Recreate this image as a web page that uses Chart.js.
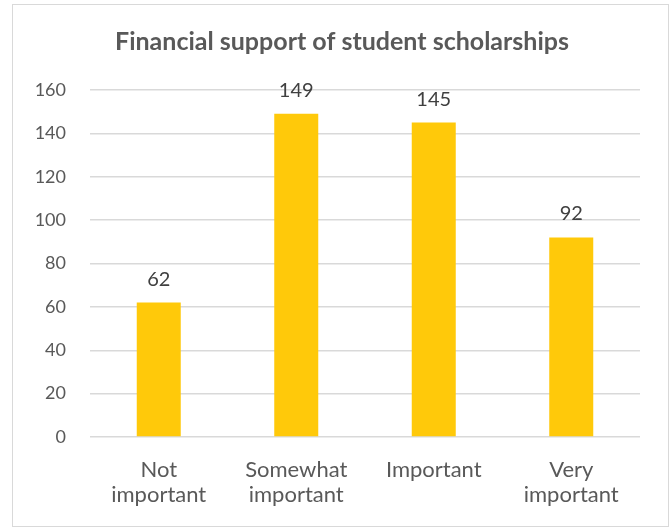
<!DOCTYPE html>
<html lang="en">
<head>
    <meta charset="UTF-8">
    <title>Financial support of student scholarships</title>
    <style>
        * { margin: 0; padding: 0; box-sizing: border-box; }
        body { width: 669px; height: 527px; background: #fff; overflow: hidden; }
        #frame {
            position: absolute;
            left: 12px; top: 4px;
            width: 657px; height: 523px;
            border: 1.5px solid #d9d9d9;
        }
        #wrap { position: absolute; left: 0; top: 0; width: 669px; height: 527px; }
    </style>
    <script src="https://cdn.jsdelivr.net/npm/chart.js"></script>
</head>
<body>
    <div id="frame"></div>
    <div id="wrap"><canvas id="chart"></canvas></div>

    <script>
        const chartTitle = 'Financial support of student scholarships';
        const categories = [['Not', 'important'], ['Somewhat', 'important'], 'Important', ['Very', 'important']];
        const counts = [62, 149, 145, 92];
        const yTicks = [0, 20, 40, 60, 80, 100, 120, 140, 160];

        const FONT = 'Lato, "Open Sans", sans-serif';
        const TEXT = '#595959';

        // title centred over the whole frame (Chart.js title centres on the padded box)
        const frameTitle = {
            id: 'frameTitle',
            afterDraw(chart) {
                const ctx = chart.ctx;
                ctx.save();
                ctx.font = 'bold 25px ' + FONT;
                ctx.fillStyle = TEXT;
                ctx.textAlign = 'center';
                ctx.textBaseline = 'middle';
                ctx.fillText(chartTitle, 342, 42);
                ctx.restore();
            }
        };

        // value written above each bar
        const valueLabels = {
            id: 'valueLabels',
            afterDatasetsDraw(chart) {
                const ctx = chart.ctx;
                ctx.save();
                ctx.font = '20px ' + FONT;
                ctx.fillStyle = '#404040';
                ctx.textAlign = 'center';
                ctx.textBaseline = 'alphabetic';
                chart.getDatasetMeta(0).data.forEach((bar, i) => {
                    ctx.fillText(counts[i], bar.x, bar.y - 17);
                });
                ctx.restore();
            }
        };

        new Chart(document.getElementById('chart'), {
            type: 'bar',
            data: {
                labels: categories,
                datasets: [{
                    data: counts,
                    backgroundColor: '#ffc90a',
                    barPercentage: 0.64,
                    categoryPercentage: 0.5
                }]
            },
            options: {
                responsive: true,
                maintainAspectRatio: false,
                animation: false,
                layout: { padding: { left: 12, right: 29, top: 90, bottom: 0 } },
                plugins: {
                    legend: { display: false },
                    tooltip: { enabled: false },
                    title: { display: false }
                },
                scales: {
                    x: {
                        grid: { display: false },
                        border: { display: false },
                        ticks: { color: TEXT, font: { family: FONT, size: 22, lineHeight: 1.15 }, padding: 12, maxRotation: 0 },
                        afterFit: s => { s.height = 90; }
                    },
                    y: {
                        min: 0,
                        max: 160,
                        afterBuildTicks: s => { s.ticks = yTicks.map(v => ({ value: v })); },
                        grid: { color: '#d9d9d9', lineWidth: 1.5, drawTicks: false },
                        border: { display: false },
                        ticks: { color: TEXT, font: { family: FONT, size: 18 }, padding: 24 },
                        afterFit: s => { s.width = 78; }
                    }
                }
            },
            plugins: [valueLabels, frameTitle]
        });
    </script>
</body>
</html>
